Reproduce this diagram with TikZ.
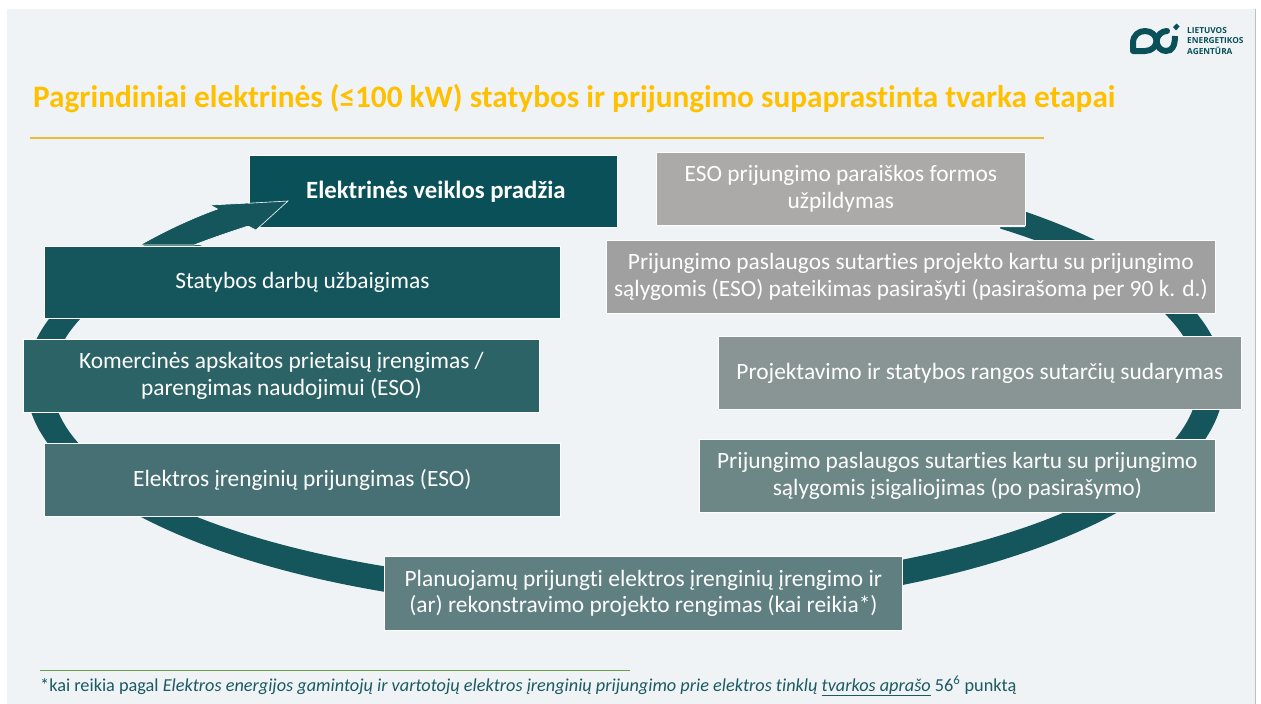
\documentclass[tikz,border=0pt]{standalone}
\usepackage{fontspec}
\setmainfont[Ligatures=NoCommon]{Carlito}
\newfontfamily\logofont{Open Sans}
\definecolor{panel}{HTML}{EFF3F6}
\definecolor{ring}{HTML}{14565C}
\definecolor{titlecol}{HTML}{FFC000}
\definecolor{rulecol}{HTML}{EDBB3A}
\definecolor{greencol}{HTML}{6E9B4C}
\definecolor{foot}{HTML}{1A5A60}
\definecolor{ca}{HTML}{0A5059}
\definecolor{cb}{HTML}{15565C}
\definecolor{cc}{HTML}{2C6367}
\definecolor{cd}{HTML}{477074}
\definecolor{ce}{HTML}{5F7F80}
\definecolor{cf}{HTML}{6D8686}
\definecolor{cg}{HTML}{889594}
\definecolor{ch}{HTML}{A0A0A1}
\definecolor{ci}{HTML}{ABAAA8}
\tikzset{
  stepbox/.style={draw=white,line width=0.8pt,inner sep=0pt,align=center,text=white,anchor=north west},
}
\newcommand{\boxfont}{\fontsize{23.4}{26.5}\selectfont}
\newcommand{\stepnode}[8]{\node[stepbox,fill=#2,minimum width=#5pt-#3pt,minimum height=#6pt-#4pt,font=#7] (#1) at (#3,#4) {#8};}
\begin{document}
\begin{tikzpicture}[x=1pt,y=-1pt]
\useasboundingbox (0,0) rectangle (1261,704);
\fill[white] (0,0) rectangle (1261,704);
\fill[panel] (7,9) rectangle (1255,704);
\draw[color=black!25,line width=0.8pt] (1255.5,9) -- (1255.5,704);
% ring
\fill[ring,even odd rule] (625,382) ellipse [x radius=599,y radius=229] (625,382) ellipse [x radius=573,y radius=203];
% clear the gap at the top of the ring
\fill[panel] (30,140) rectangle (1040,205);
\fill[panel] (194,205) -- (1040,205) -- (1040,208) -- (1025,208) -- (1025,227) -- (1000,227) -- (1000,245) -- (194,245) -- cycle;
\fill[panel] (30,150) rectangle (135,245);
\fill[panel] (135,150) rectangle (205,205);
\fill[panel] (135,205) -- (210,205) -- (217.5,209) -- (140,245) -- cycle;
% arrow
\fill[ring,draw=white,line width=0.6pt] (140,245) .. controls (165,231) and (190,219) .. (217.5,209) -- (210,205) -- (288,201) -- (256,230) -- (248,226) .. controls (230,232) and (212,238) .. (194,245) -- cycle;
% boxes
\stepnode{a}{ca}{249}{155}{617}{227}{\bfseries\fontsize{24.8}{27}\selectfont}{\hspace*{5pt}Elektrinės veiklos pradžia}
\stepnode{b}{cb}{44}{246}{560}{318}{\boxfont}{Statybos darbų užbaigimas}
\stepnode{c}{cc}{23}{339}{539}{412}{\boxfont}{Komercinės apskaitos prietaisų įrengimas /\\parengimas naudojimui (ESO)}
\stepnode{d}{cd}{44}{443}{560}{516}{\boxfont}{Elektros įrenginių prijungimas (ESO)}
\stepnode{e}{ce}{384}{556}{902}{630}{\boxfont}{Planuojamų prijungti elektros įrenginių įrengimo ir\\(ar) rekonstravimo projekto rengimas (kai reikia*)}
\stepnode{f}{cf}{699}{439}{1215}{512}{\boxfont}{Prijungimo paslaugos sutarties kartu su prijungimo\\sąlygomis įsigaliojimas (po pasirašymo)}
\stepnode{g}{cg}{718}{336}{1241}{409}{\boxfont}{Projektavimo ir statybos rangos sutarčių sudarymas}
\stepnode{h}{ch}{606}{240}{1215}{313}{\boxfont}{Prijungimo paslaugos sutarties projekto kartu su prijungimo\\sąlygomis (ESO) pateikimas pasirašyti (pasirašoma per 90 k. d.)}
\stepnode{i}{ci}{656}{152}{1025}{225}{\boxfont}{ESO prijungimo paraiškos formos\\užpildymas}
% arrow tip over box a
\fill[ring,draw=white,line width=0.6pt] (249,203.2) -- (288,201) -- (256,230) -- (249,226.5) -- cycle;
\fill[ring] (246,204) rectangle (250,226);
% title
\node[anchor=base west,inner sep=0pt,text=titlecol,font=\bfseries\fontsize{31.25}{36}\selectfont] (title) at (33,107) {Pagrindiniai elektrinės (≤100 kW) statybos ir prijungimo supaprastinta tvarka etapai};
\coordinate (rl) at (30,138); \coordinate (rr) at (1044,138);
\draw[rulecol,line width=1.2pt] (rl) -- (rr);
% footnote
\coordinate (gl) at (40,670); \coordinate (gr) at (630,670);
\draw[greencol,line width=0.9pt] (gl) -- (gr);
\node[anchor=base west,inner sep=0pt,text=foot,font=\fontsize{18.26}{22}\selectfont] (note) at (40,691) {*kai reikia pagal \textit{Elektros energijos gamintojų ir vartotojų elektros įrenginių prijungimo prie elektros tinklų \underline{tvarkos aprašo}} 56\textsuperscript{6} punktą};
% logo
\begin{scope}[ca]
\draw[line width=6pt,line join=round] (1133,51) -- (1133,43) .. controls (1133,35) and (1139,31) .. (1145,31) .. controls (1152,31) and (1156.5,36) .. (1156.5,41) .. controls (1156.5,46) and (1152,51) .. (1145,51) -- cycle;
\draw[line width=6pt,line cap=round] (1156.5,41) .. controls (1157,35) and (1162,31) .. (1167,31);
\draw[line width=6pt] (1156.5,41) .. controls (1157,47) and (1161,51) .. (1166,51) .. controls (1172,51) and (1175,46) .. (1175,36);
\fill (1176.5,23.5) -- (1179.5,26.5) -- (1176,30.5) -- (1173,27) -- cycle;
\end{scope}
\node[anchor=west,inner sep=0pt,align=left,text=ca,font=\logofont\bfseries\fontsize{8.3}{10.5}\selectfont] (logo) at (1187,41) {LIETUVOS\\ENERGETIKOS\\AGENTŪRA};
\end{tikzpicture}
\end{document}
